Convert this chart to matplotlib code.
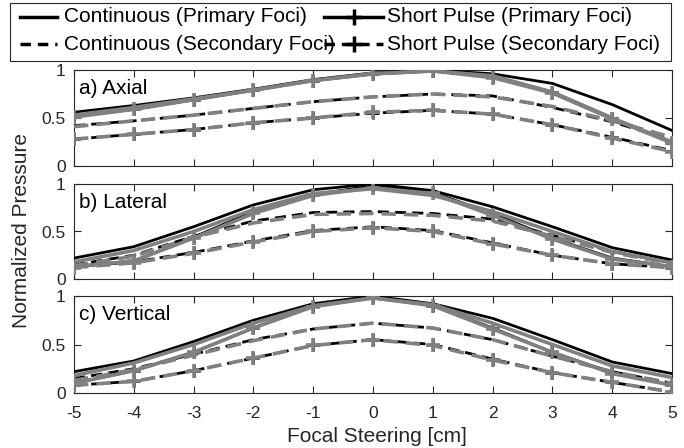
import matplotlib
matplotlib.use("Agg")
import matplotlib.pyplot as plt
from matplotlib.lines import Line2D
from matplotlib.patches import Rectangle

plt.rcParams['font.family'] = ['Liberation Sans', 'DejaVu Sans']

steer = [-5, -4, -3, -2, -1, 0, 1, 2, 3, 4, 5]
panel_titles = ["a) Axial", "b) Lateral", "c) Vertical"]
yticks = [0, 0.5, 1]
ytick_labels = ["0", "0.5", "1"]

# black set
axial_cont_prim_k = [0.56, 0.63, 0.71, 0.80, 0.90, 0.97, 1.00, 0.96, 0.86, 0.64, 0.37]
axial_cont_sec_k = [0.42, 0.47, 0.53, 0.60, 0.67, 0.72, 0.75, 0.73, 0.61, 0.46, 0.27]
axial_sp_prim_k = [0.52, 0.59, 0.69, 0.79, 0.89, 0.96, 0.99, 0.93, 0.77, 0.50, 0.24]
axial_sp_sec_k = [0.28, 0.33, 0.38, 0.45, 0.50, 0.55, 0.58, 0.54, 0.43, 0.30, 0.16]
# gray set
axial_cont_prim_g = [0.53, 0.61, 0.70, 0.79, 0.89, 0.96, 0.99, 0.94, 0.77, 0.50, 0.25]
axial_cont_sec_g = [0.41, 0.47, 0.53, 0.60, 0.67, 0.72, 0.75, 0.72, 0.62, 0.47, 0.30]
axial_sp_prim_g = [0.51, 0.59, 0.69, 0.79, 0.89, 0.96, 0.99, 0.92, 0.76, 0.49, 0.24]
axial_sp_sec_g = [0.28, 0.33, 0.38, 0.45, 0.50, 0.56, 0.58, 0.54, 0.43, 0.29, 0.15]

lateral_cont_prim_k = [0.22, 0.34, 0.55, 0.78, 0.94, 1.00, 0.93, 0.76, 0.55, 0.33, 0.20]
lateral_cont_sec_k = [0.15, 0.25, 0.45, 0.61, 0.70, 0.71, 0.69, 0.63, 0.46, 0.29, 0.17]
lateral_sp_prim_k = [0.13, 0.19, 0.44, 0.71, 0.89, 0.98, 0.91, 0.69, 0.43, 0.22, 0.13]
lateral_sp_sec_k = [0.13, 0.18, 0.28, 0.40, 0.51, 0.55, 0.51, 0.38, 0.25, 0.16, 0.12]
lateral_cont_prim_g = [0.18, 0.30, 0.50, 0.73, 0.90, 0.95, 0.88, 0.71, 0.50, 0.29, 0.17]
lateral_cont_sec_g = [0.14, 0.24, 0.44, 0.59, 0.68, 0.69, 0.67, 0.61, 0.45, 0.28, 0.16]
lateral_sp_prim_g = [0.13, 0.19, 0.43, 0.69, 0.88, 0.96, 0.90, 0.67, 0.42, 0.21, 0.13]
lateral_sp_sec_g = [0.12, 0.17, 0.27, 0.39, 0.50, 0.54, 0.50, 0.37, 0.25, 0.16, 0.12]

vertical_cont_prim_k = [0.22, 0.33, 0.53, 0.75, 0.92, 1.00, 0.92, 0.77, 0.55, 0.32, 0.20]
vertical_cont_sec_k = [0.15, 0.25, 0.40, 0.55, 0.66, 0.72, 0.67, 0.55, 0.38, 0.22, 0.10]
vertical_sp_prim_k = [0.10, 0.23, 0.42, 0.67, 0.90, 0.99, 0.90, 0.67, 0.42, 0.21, 0.08]
vertical_sp_sec_k = [0.08, 0.12, 0.23, 0.36, 0.49, 0.55, 0.50, 0.35, 0.21, 0.11, 0.01]
vertical_cont_prim_g = [0.18, 0.31, 0.50, 0.72, 0.90, 0.98, 0.91, 0.72, 0.50, 0.28, 0.16]
vertical_cont_sec_g = [0.13, 0.24, 0.39, 0.54, 0.66, 0.72, 0.67, 0.55, 0.38, 0.22, 0.10]
vertical_sp_prim_g = [0.10, 0.23, 0.42, 0.67, 0.89, 0.98, 0.90, 0.66, 0.42, 0.20, 0.08]
vertical_sp_sec_g = [0.08, 0.12, 0.23, 0.36, 0.49, 0.55, 0.49, 0.34, 0.21, 0.11, 0.01]

panels = [
    (axial_cont_prim_k, axial_cont_sec_k, axial_sp_prim_k, axial_sp_sec_k,
     axial_cont_prim_g, axial_cont_sec_g, axial_sp_prim_g, axial_sp_sec_g),
    (lateral_cont_prim_k, lateral_cont_sec_k, lateral_sp_prim_k, lateral_sp_sec_k,
     lateral_cont_prim_g, lateral_cont_sec_g, lateral_sp_prim_g, lateral_sp_sec_g),
    (vertical_cont_prim_k, vertical_cont_sec_k, vertical_sp_prim_k, vertical_sp_sec_k,
     vertical_cont_prim_g, vertical_cont_sec_g, vertical_sp_prim_g, vertical_sp_sec_g),
]

legend_labels = ["Continuous (Primary Foci)", "Short Pulse (Primary Foci)",
                 "Continuous (Secondary Foci)", "Short Pulse (Secondary Foci)"]

W, H = 684, 448
fig = plt.figure(figsize=(W / 100, H / 100), dpi=100)

ax_rects = [(74, 70, 672, 166), (74, 184, 672, 279), (74, 296, 672, 393)]
GRAY = "#808080"
EDGE = "#262626"
dash = (4, 2.2)

for i, (l, t, r, b) in enumerate(ax_rects):
    ax = fig.add_axes([l / W, 1 - b / H, (r - l) / W, (b - t) / H])
    ckp, cks, skp, sks, cgp, cgs, sgp, sgs = panels[i]
    # black set
    ax.plot(steer, ckp, color="black", lw=2.0, zorder=3)
    ax.plot(steer, cks, color="black", lw=2.0, dashes=dash, zorder=3)
    ax.plot(steer, skp, color="black", lw=2.0, marker="+", ms=9, mew=2, zorder=3)
    ax.plot(steer, sks, color="black", lw=2.0, dashes=dash, marker="+", ms=9, mew=2, zorder=3)
    # gray set
    ax.plot(steer, cgp, color=GRAY, lw=2.6, zorder=4)
    ax.plot(steer, cgs, color=GRAY, lw=2.6, dashes=dash, zorder=4)
    ax.plot(steer, sgp, color=GRAY, lw=2.6, marker="+", ms=10, mew=2.6, zorder=4)
    ax.plot(steer, sgs, color=GRAY, lw=2.6, dashes=dash, marker="+", ms=10, mew=2.6, zorder=4)

    ax.set_xlim(-5, 5)
    ax.set_ylim(0, 1)
    ax.set_xticks(steer)
    ax.set_yticks(yticks)
    ax.set_yticklabels(ytick_labels)
    ax.tick_params(direction="in", top=True, right=True, length=5, width=0.8,
                   colors=EDGE, labelsize=12.5, labelcolor="#262626")
    ax.tick_params(axis="y", pad=6)
    ax.tick_params(axis="x", pad=9)
    for s in ax.spines.values():
        s.set_color(EDGE)
        s.set_linewidth(0.8)
    if i < 2:
        ax.set_xticklabels([])
    else:
        ax.set_xticklabels([str(v) for v in steer])
    ax.text(0.008, 0.81, panel_titles[i], transform=ax.transAxes, fontsize=15,
            ha="left", va="center", color="black")

fig.text(22 / W, 1 - 231 / H, "Normalized Pressure", rotation=90, ha="center",
         va="center", fontsize=15, color="#262626")
fig.text(377 / W, 1 - 436 / H, "Focal Steering [cm]", ha="center", va="center",
         fontsize=15, color="#262626")

# legend (drawn manually to mimic the cramped MATLAB layout)
def fx(px):
    return px / W

def fy(py):
    return 1 - py / H

fig.patches.append(Rectangle((fx(10), fy(61)), fx(671) - fx(10), fy(3) - fy(61),
                             transform=fig.transFigure, fill=False, edgecolor=EDGE,
                             lw=0.8, zorder=5))
rows_y = [17, 44]
handle_x = [(20, 57), (324, 383)]
text_x = [64, 387]
styles = [dict(), dict(marker="+", ms=11, mew=2.5)]
for r_i, ry in enumerate(rows_y):
    for c_i in range(2):
        kw = dict(color="black", lw=2.5, transform=fig.transFigure, zorder=6)
        kw.update(styles[c_i])
        hx0, hx1 = handle_x[c_i]
        if r_i == 1:
            kw["dashes"] = (3, 2)
        fig.lines.append(Line2D([fx(hx0), fx(hx1)], [fy(ry), fy(ry)], markevery=[], **kw))
        if "marker" in kw:
            fig.lines.append(Line2D([fx((hx0 + hx1) / 2)], [fy(ry)], color="black",
                                    lw=0, marker="+", ms=11, mew=2.5,
                                    transform=fig.transFigure, zorder=6))
        fig.text(fx(text_x[c_i]), fy(ry), legend_labels[r_i * 2 + c_i], fontsize=15,
                 ha="left", va="center", color="black", zorder=7)

fig.savefig("out.png", dpi=100)
